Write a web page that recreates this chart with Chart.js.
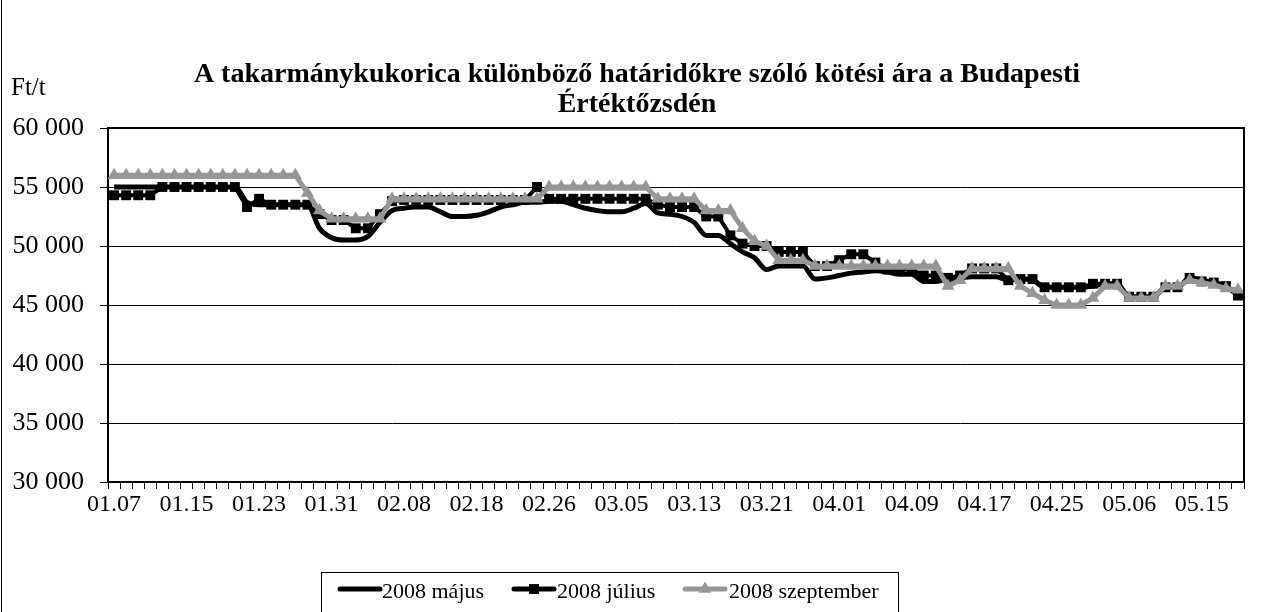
<!DOCTYPE html>
<html>
<head>
<meta charset="utf-8">
<script src="https://cdn.jsdelivr.net/npm/chart.js@4/dist/chart.umd.min.js"></script>
<style>
  html, body { margin: 0; padding: 0; background: #fff; }
</style>
</head>
<body>
<canvas id="chart" width="1263" height="612"></canvas>
<script>
// Data
const labels = [
    '01.07', '01.08', '01.09', '01.10', '01.11', '01.14', '01.15', '01.16', '01.17', '01.18',
    '01.21', '01.22', '01.23', '01.24', '01.25', '01.28', '01.29', '01.30', '01.31', '02.01',
    '02.04', '02.05', '02.06', '02.07', '02.08', '02.11', '02.12', '02.13', '02.14', '02.15',
    '02.18', '02.19', '02.20', '02.21', '02.22', '02.25', '02.26', '02.27', '02.28', '02.29',
    '03.03', '03.04', '03.05', '03.06', '03.07', '03.10', '03.11', '03.12', '03.13', '03.14',
    '03.17', '03.18', '03.19', '03.20', '03.21', '03.25', '03.26', '03.27', '03.28', '03.31',
    '04.01', '04.02', '04.03', '04.04', '04.07', '04.08', '04.09', '04.10', '04.11', '04.14',
    '04.15', '04.16', '04.17', '04.18', '04.21', '04.22', '04.23', '04.24', '04.25', '04.28',
    '04.29', '04.30', '05.02', '05.05', '05.06', '05.07', '05.08', '05.09', '05.13', '05.14',
    '05.15', '05.16', '05.19', '05.20'
];

const majus = [
    55000, 55000, 55000, 55000, 55000, 55000, 55000, 55000, 55000, 55000,
    55000, 53700, 53500, 53500, 53500, 53500, 53500, 51500, 50700, 50500,
    50500, 50800, 52000, 53000, 53200, 53300, 53300, 52900, 52500, 52500,
    52600, 52900, 53300, 53500, 53700, 53700, 53800, 53800, 53500, 53200,
    53000, 52900, 52900, 53200, 53600, 52800, 52700, 52500, 52000, 50900,
    50900, 50200, 49500, 49000, 48000, 48300, 48300, 48300, 47200, 47300,
    47500, 47700, 47800, 47900, 47800, 47600, 47600, 47000, 47000, 47200,
    47300, 47400, 47400, 47400, 47100, 47200, 47100, 46500, 46500, 46500,
    46500, 46600, 46800, 46800, 45700, 45700, 45700, 46500, 46500, 47300,
    47100, 46900, 46600, 45800
];

const julius = [
    54300, 54300, 54300, 54300, 55000, 55000, 55000, 55000, 55000, 55000,
    55000, 53300, 54000, 53500, 53500, 53500, 53500, 52700, 52200, 52200,
    51500, 51500, 52700, 53800, 53900, 53900, 53900, 53900, 53900, 53900,
    53900, 53900, 53900, 53900, 53900, 55000, 54000, 54000, 54000, 54000,
    54000, 54000, 54000, 54000, 54000, 53500, 53300, 53300, 53300, 52500,
    52500, 50900, 50200, 50000, 50000, 49500, 49500, 49500, 48300, 48300,
    48800, 49300, 49300, 48600, 48000, 48000, 48000, 47500, 47500, 47300,
    47500, 48100, 48100, 48100, 47100, 47200, 47200, 46500, 46500, 46500,
    46500, 46800, 46800, 46800, 45700, 45700, 45700, 46500, 46500, 47300,
    47000, 46900, 46600, 45800
];

const szeptember = [
    56000, 56000, 56000, 56000, 56000, 56000, 56000, 56000, 56000, 56000,
    56000, 56000, 56000, 56000, 56000, 56000, 54500, 53000, 52300, 52300,
    52300, 52300, 52300, 54000, 54000, 54000, 54000, 54000, 54000, 54000,
    54000, 54000, 54000, 54000, 54000, 54000, 55000, 55000, 55000, 55000,
    55000, 55000, 55000, 55000, 55000, 54000, 54000, 54000, 54000, 53000,
    53000, 53000, 51500, 50400, 50000, 48800, 48800, 48800, 48300, 48300,
    48300, 48300, 48300, 48300, 48300, 48300, 48300, 48300, 48300, 46600,
    47100, 48100, 48100, 48100, 48100, 46600, 46000, 45400, 45000, 45000,
    45000, 45600, 46600, 46600, 45600, 45600, 45600, 46600, 46600, 47100,
    46900, 46700, 46400, 46300
];

const seriesNames = ['2008 május', '2008 július', '2008 szeptember'];
const titleLines = ['A takarmánykukorica különböző határidőkre szóló kötési ára a Budapesti', 'Értéktőzsdén'];
const yUnit = 'Ft/t';
const yMin = 30000;
const yMax = 60000;
const yStep = 5000;
const labelEvery = 6;

// Styles
const SERIF = '"Liberation Serif", "Times New Roman", serif';
const GRAY = '#969696';

const fmtThousands = (v) => String(v).replace(/\B(?=(\d{3})+(?!\d))/g, ' ');

// small marker for the legend samples
const drawMarker = (c, style, r, x, y, color) => {
    c.fillStyle = color;
    c.beginPath();
    if (style === 'rect') {
        const s = r * Math.SQRT1_2;
        c.rect(x - s, y - s, 2 * s, 2 * s);
    } else if (style === 'triangle') {
        c.moveTo(x, y - r);
        c.lineTo(x + r * Math.sin(Math.PI * 2 / 3), y + r / 2);
        c.lineTo(x - r * Math.sin(Math.PI * 2 / 3), y + r / 2);
        c.closePath();
    }
    c.fill();
};

// Title, unit label, frame and legend drawn on the canvas
const decorPlugin = {
    id: 'decor',
    afterDraw(chart) {
        const c = chart.ctx;
        const area = chart.chartArea;
        c.save();

        // plot frame (top and right edges)
        c.strokeStyle = '#000';
        c.lineWidth = 2;
        c.beginPath();
        c.moveTo(area.left, area.top);
        c.lineTo(area.right, area.top);
        c.lineTo(area.right, area.bottom);
        c.stroke();

        // outer chart border
        c.lineWidth = 1;
        c.beginPath();
        c.moveTo(1.5, 0);
        c.lineTo(1.5, chart.height);
        c.stroke();

        // title
        c.fillStyle = '#000';
        c.textAlign = 'center';
        c.textBaseline = 'alphabetic';
        c.font = 'bold 28px ' + SERIF;
        c.fillText(titleLines[0], 637, 82);
        c.fillText(titleLines[1], 637, 112);

        // unit
        c.textAlign = 'left';
        c.font = '25px ' + SERIF;
        c.fillText(yUnit, 11, 95);

        // legend
        c.lineWidth = 1;
        c.strokeRect(321.5, 572.5, 577, 60);
        const items = [
            { x: 338, tx: 382 },
            { x: 512, tx: 557 },
            { x: 683, tx: 729 }
        ];
        c.font = '22px ' + SERIF;
        chart.data.datasets.forEach((ds, i) => {
            const it = items[i];
            const cy = 589;
            c.strokeStyle = ds.borderColor;
            c.lineWidth = 5;
            c.lineCap = 'round';
            c.beginPath();
            c.moveTo(it.x + 2, cy);
            c.lineTo(it.x + 42, cy);
            c.stroke();
            if (ds.pointRadius > 0) {
                drawMarker(c, ds.pointStyle, ds.pointRadius, it.x + 22, cy, ds.pointBackgroundColor);
            }
            c.fillStyle = '#000';
            c.fillText(ds.label, it.tx, 598);
        });

        c.restore();
    }
};

new Chart(document.getElementById('chart'), {
    type: 'line',
    data: {
        labels: labels,
        datasets: [
            {
                label: seriesNames[0],
                data: majus,
                borderColor: '#000',
                backgroundColor: '#000',
                borderWidth: 5,
                pointRadius: 0,
                cubicInterpolationMode: 'monotone',
                order: 3
            },
            {
                label: seriesNames[1],
                data: julius,
                borderColor: '#000',
                backgroundColor: '#000',
                borderWidth: 4,
                pointStyle: 'rect',
                pointRadius: 7,
                pointBackgroundColor: '#000',
                pointBorderWidth: 0,
                tension: 0,
                order: 2
            },
            {
                label: seriesNames[2],
                data: szeptember,
                borderColor: GRAY,
                backgroundColor: GRAY,
                borderWidth: 5,
                pointStyle: 'triangle',
                pointRadius: 7.5,
                pointBackgroundColor: GRAY,
                pointBorderWidth: 0,
                tension: 0,
                order: 1
            }
        ]
    },
    options: {
        responsive: false,
        animation: false,
        devicePixelRatio: 1,
        layout: {
            padding: { top: 128, right: 19, bottom: 0, left: 0 }
        },
        plugins: {
            legend: { display: false },
            title: { display: false },
            tooltip: { enabled: false }
        },
        scales: {
            x: {
                type: 'category',
                offset: true,
                grid: {
                    offset: true,
                    drawOnChartArea: false,
                    drawTicks: true,
                    tickLength: 7,
                    color: '#000',
                    lineWidth: 1
                },
                border: { display: true, color: '#000', width: 2 },
                ticks: {
                    autoSkip: false,
                    maxRotation: 0,
                    minRotation: 0,
                    padding: 1,
                    color: '#000',
                    font: { family: SERIF, size: 24 },
                    callback: (val, i) => (i % labelEvery === 0 ? labels[i] : '')
                },
                afterFit: (scale) => { scale.height = 130; }
            },
            y: {
                min: yMin,
                max: yMax,
                grid: {
                    color: '#000',
                    lineWidth: 1,
                    drawTicks: true,
                    tickLength: 8
                },
                border: { display: true, color: '#000', width: 2 },
                ticks: {
                    stepSize: yStep,
                    padding: 16,
                    color: '#000',
                    font: { family: SERIF, size: 26 },
                    callback: (v) => fmtThousands(v)
                },
                afterFit: (scale) => { scale.width = 108; }
            }
        }
    },
    plugins: [decorPlugin]
});
</script>
</body>
</html>
